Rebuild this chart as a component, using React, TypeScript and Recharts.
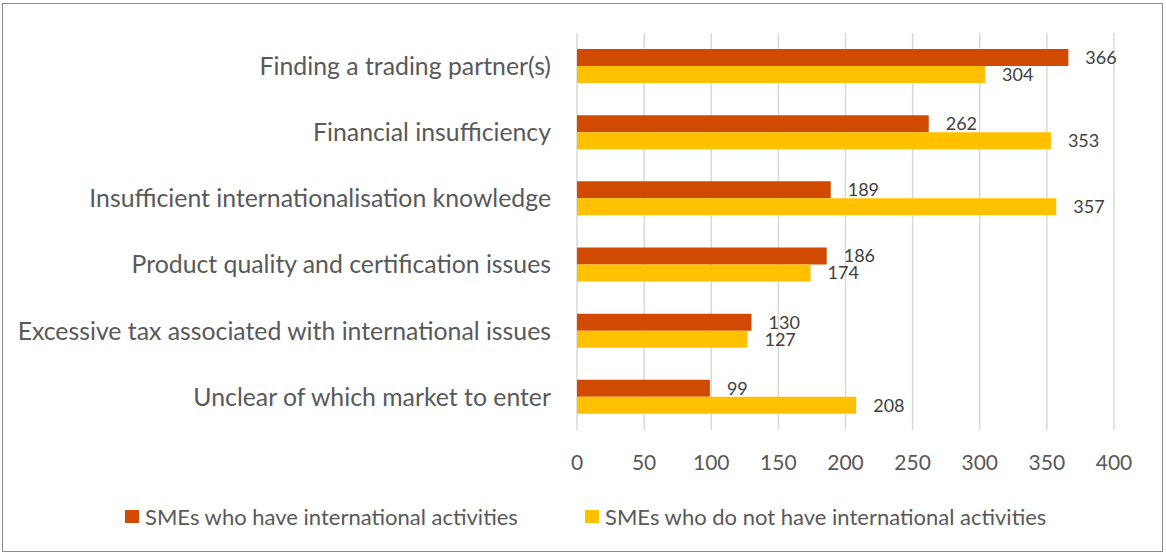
import { BarChart, Bar, XAxis, YAxis, CartesianGrid, LabelList } from "recharts";

const categories = [
  "Finding a trading partner(s)",
  "Financial insufficiency",
  "Insufficient internationalisation knowledge",
  "Product quality and certification issues",
  "Excessive tax associated with international issues",
  "Unclear of which market to enter",
];
const withIntl = [366, 262, 189, 186, 130, 99];
const withoutIntl = [304, 353, 357, 174, 127, 208];
const xTicks = [0, 50, 100, 150, 200, 250, 300, 350, 400];

const seriesNames = [
  "SMEs who have international activities",
  "SMEs who do not have international activities",
];
const RED = "#D04A02";
const YELLOW = "#FFC000";

const data = categories.map((name, i) => ({
  name,
  have: withIntl[i],
  haveNot: withoutIntl[i],
}));

const FONT = "Lato, 'Open Sans', sans-serif";

const LegendItem = ({ left, color, label }: { left: number; color: string; label: string }) => (
  <div style={{ position: "absolute", left, top: 502, display: "flex", alignItems: "center", height: 28 }}>
    <span style={{ width: 14, height: 13, background: color, marginRight: 6, display: "inline-block" }} />
    <span>{label}</span>
  </div>
);

export default function App() {
  return (
    <div
      style={{
        position: "absolute",
        left: 0,
        top: 0,
        width: 1166,
        height: 555,
        background: "#fff",
        fontFamily: FONT,
        fontSize: 22,
        color: "#595959",
      }}
    >
      <div
        style={{
          position: "absolute",
          left: 2,
          top: 3,
          width: 1159,
          height: 547,
          border: "1.5px solid #8a8a8a",
        }}
      />
      <BarChart
        width={1166}
        height={555}
        layout="vertical"
        data={data}
        margin={{ top: 33, right: 52, bottom: 65, left: 0 }}
        barSize={17}
        barGap={0}
      >
        <CartesianGrid horizontal={false} stroke="#d9d9d9" strokeWidth={1.5} />
        <XAxis
          type="number"
          domain={[0, 400]}
          ticks={xTicks}
          axisLine={false}
          tickLine={false}
          tickSize={0}
          tickMargin={25}
          tick={{ fontSize: 21, fill: "#595959", fontFamily: FONT }}
          height={60}
        />
        <YAxis
          type="category"
          dataKey="name"
          width={577}
          axisLine={false}
          tickLine={false}
          tickSize={0}
          tickMargin={26}
          tick={{ fontSize: 24.8, fill: "#595959", fontFamily: FONT }}
        />
        <Bar dataKey="have" name={seriesNames[0]} fill={RED} isAnimationActive={false}>
          <LabelList dataKey="have" position="right" offset={17} style={{ fontSize: 18, fill: "#404040", fontFamily: FONT }} />
        </Bar>
        <Bar dataKey="haveNot" name={seriesNames[1]} fill={YELLOW} isAnimationActive={false}>
          <LabelList dataKey="haveNot" position="right" offset={17} style={{ fontSize: 18, fill: "#404040", fontFamily: FONT }} />
        </Bar>
      </BarChart>
      <LegendItem left={125} color={RED} label={seriesNames[0]} />
      <LegendItem left={585} color={YELLOW} label={seriesNames[1]} />
    </div>
  );
}
